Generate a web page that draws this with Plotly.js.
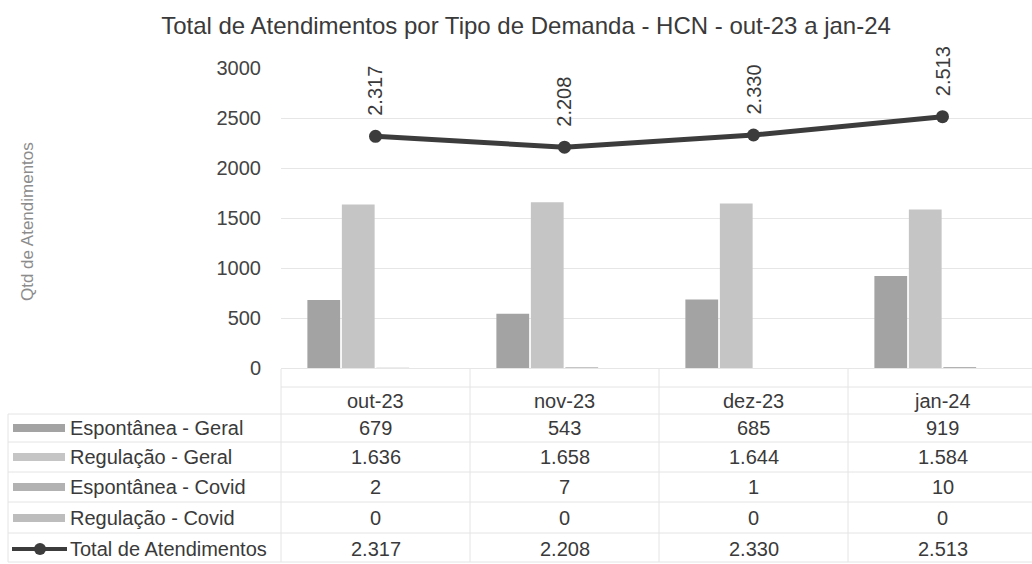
<!DOCTYPE html>
<html>
<head>
<meta charset="utf-8">
<script src="https://cdn.plot.ly/plotly-3.0.1.min.js"></script>
<style>html,body{margin:0;padding:0;background:#fff;}#chart{width:1032px;height:564px;}</style>
</head>
<body>
<div id="chart"></div>
<script>
const categories = ["out-23", "nov-23", "dez-23", "jan-24"];
const espGeral = [679, 543, 685, 919];
const regGeral = [1636, 1658, 1644, 1584];
const espCovid = [2, 7, 1, 10];
const regCovid = [0, 0, 0, 0];
const total = [2317, 2208, 2330, 2513];
const seriesNames = ["Espontânea - Geral", "Regulação - Geral", "Espontânea - Covid", "Regulação - Covid", "Total de Atendimentos"];
const yTicks = [0, 500, 1000, 1500, 2000, 2500, 3000];

function fmt(v) { return String(v).replace(/\B(?=(\d{3})+(?!\d))/g, "."); }

const TOP = 68, BOT = 368, H = BOT - TOP;
function py(p) { return (BOT - p) / H; }
const L = 281, R = 1032, W = R - L;
function px(p) { return (p - L) / W; }
const CAT_W = 189;
const xMax = -0.5 + W / CAT_W;

const FONT = "Liberation Sans, Arial, sans-serif";
const txt = "#3a3a3a";
const barColors = ["#a3a3a3", "#c5c5c5", "#b2b2b2", "#bdbdbd"];

const barSeries = [espGeral, regGeral, espCovid, regCovid];
const traces = barSeries.map((vals, i) => ({
  type: "bar", x: categories, y: vals, name: seriesNames[i],
  marker: { color: barColors[i], line: { width: 0 } }, hoverinfo: "skip"
}));
traces.push({
  type: "scatter", mode: "lines+markers", x: categories, y: total, name: seriesNames[4],
  line: { color: "#3c3c3c", width: 5 }, marker: { color: "#3c3c3c", size: 13 }, hoverinfo: "skip"
});

const annotations = [];
const shapes = [];

// line data labels (rotated)
total.forEach((v, i) => {
  annotations.push({ x: categories[i], y: v, xref: "x", yref: "y", text: fmt(v), textangle: -90,
    showarrow: false, xanchor: "center", yanchor: "bottom", yshift: 18,
    font: { family: FONT, size: 20, color: txt } });
});

// y axis title
annotations.push({ xref: "paper", yref: "paper", x: px(27), y: py(222), xanchor: "center", yanchor: "middle",
  text: "Qtd de Atendimentos", textangle: -90, showarrow: false,
  font: { family: FONT, size: 17, color: "#8c8c8c" } });

// data table
const rowY = [401, 428, 457, 487, 518, 549];
categories.forEach((c, i) => {
  annotations.push({ x: c, y: py(rowY[0]), xref: "x", yref: "paper", text: c, showarrow: false,
    xanchor: "center", yanchor: "middle", font: { family: FONT, size: 20, color: txt } });
});
const rows = [espGeral, regGeral, espCovid, regCovid, total];
rows.forEach((vals, r) => {
  const yy = rowY[r + 1];
  vals.forEach((v, i) => {
    annotations.push({ x: categories[i], y: py(yy), xref: "x", yref: "paper", text: fmt(v),
      showarrow: false, xanchor: "center", yanchor: "middle", font: { family: FONT, size: 20, color: txt } });
  });
  annotations.push({ xref: "paper", yref: "paper", x: px(68), y: py(yy), xanchor: "left", yanchor: "middle",
    text: seriesNames[r], showarrow: false, font: { family: FONT, size: 20, color: txt } });
  if (r < 4) {
    shapes.push({ type: "rect", xref: "paper", yref: "paper", x0: px(13), x1: px(65),
      y0: py(yy + 4), y1: py(yy - 4), fillcolor: barColors[r], line: { width: 0 } });
  } else {
    shapes.push({ type: "line", xref: "paper", yref: "paper", x0: px(12), x1: px(67),
      y0: py(yy), y1: py(yy), line: { color: "#3c3c3c", width: 4 } });
    shapes.push({ type: "circle", xref: "paper", yref: "paper", x0: px(34), x1: px(46),
      y0: py(yy + 6), y1: py(yy - 6), fillcolor: "#3c3c3c", line: { width: 0 } });
  }
});
// table grid lines
const hLines = [387, 414, 442, 472, 502, 533, 562];
hLines.forEach((p, k) => {
  shapes.push({ type: "line", xref: "paper", yref: "paper", x0: px(k === 0 ? 281 : 8), x1: px(1032),
    y0: py(p), y1: py(p), line: { color: "#e4e4e4", width: 1 } });
});
[0, 1, 2, 3].forEach(k => {
  const p = L + k * CAT_W;
  shapes.push({ type: "line", xref: "paper", yref: "paper", x0: px(p), x1: px(p),
    y0: py(369), y1: py(562), line: { color: "#e4e4e4", width: 1 } });
});
shapes.push({ type: "line", xref: "paper", yref: "paper", x0: px(8), x1: px(8),
  y0: py(414), y1: py(562), line: { color: "#e4e4e4", width: 1 } });

const layout = {
  width: 1032, height: 564,
  margin: { l: L, r: 1032 - R, t: TOP, b: 564 - BOT, pad: 0 },
  paper_bgcolor: "#fff", plot_bgcolor: "#fff",
  showlegend: false,
  barmode: "group", bargap: 0.27, bargroupgap: 0.05,
  title: { text: "Total de Atendimentos por Tipo de Demanda - HCN - out-23 a jan-24",
    x: 526 / 1032, xanchor: "center", y: 1 - 26 / 564, yanchor: "middle", yref: "container",
    font: { family: FONT, size: 24, color: txt } },
  xaxis: { type: "category", showticklabels: false, showgrid: false, zeroline: false, showline: false,
    range: [-0.5, xMax] },
  yaxis: { range: [0, 3000], tickvals: yTicks, ticktext: yTicks.map(String), showgrid: true,
    gridcolor: "#e6e6e6", gridwidth: 1, zeroline: true, zerolinecolor: "#e6e6e6", showline: false,
    ticklabelstandoff: 19, tickfont: { family: FONT, size: 20, color: "#444" } },
  annotations: annotations, shapes: shapes,
  font: { family: FONT }
};

Plotly.newPlot("chart", traces, layout, { staticPlot: true, displayModeBar: false });
</script>
</body>
</html>
